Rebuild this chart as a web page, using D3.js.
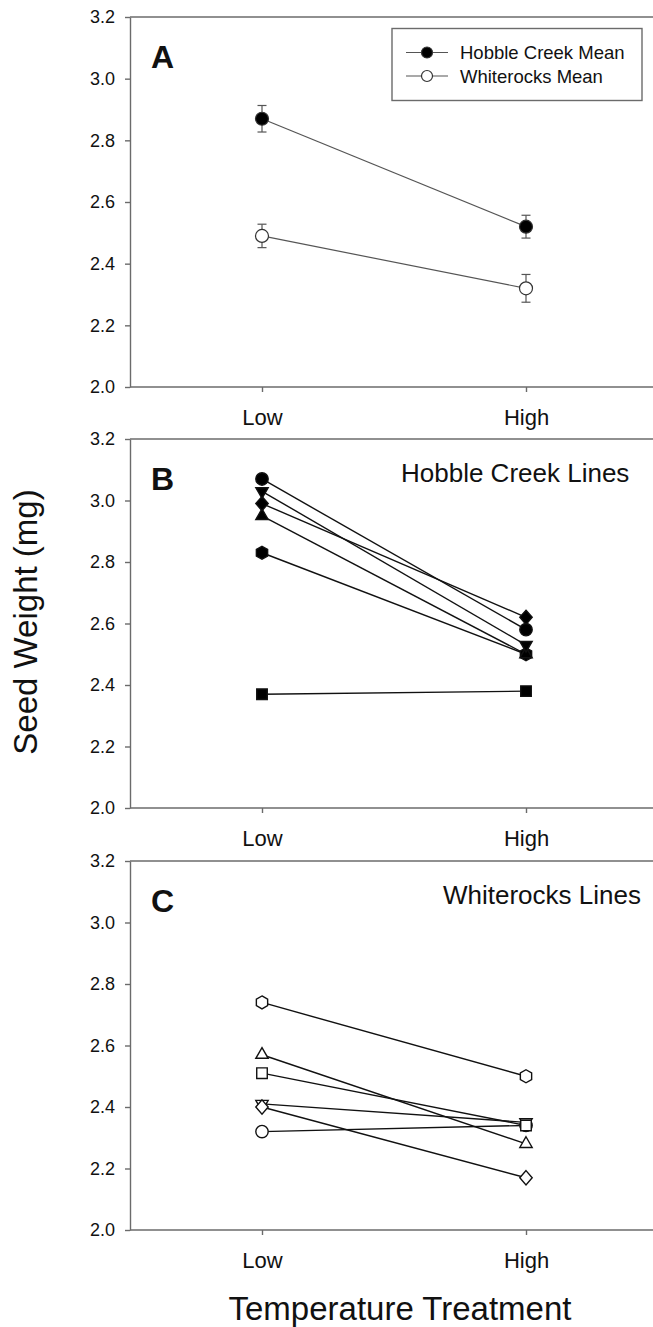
<!DOCTYPE html>
<meta charset="utf-8">
<style>
body { margin: 0; background: #fff; }
text { font-family: "Liberation Sans", Arial, sans-serif; fill: #111; }
</style>
<svg width="653" height="1327"></svg>
<script src="https://d3js.org/d3.v7.min.js"></script>
<script>

// ---- data ----
var treatments = ["Low", "High"];
var yTicks = [2.0, 2.2, 2.4, 2.6, 2.8, 3.0, 3.2];

var meanNames = ["Hobble Creek Mean", "Whiterocks Mean"];
var hobbleMean = [2.87, 2.52];
var hobbleSE = [0.043, 0.037];
var whiteMean = [2.49, 2.32];
var whiteSE = [0.038, 0.045];

var hobbleSymbols = ["circle", "triangleDown", "diamond", "triangle", "hexagon", "square"];
var hobbleLow  = [3.07, 3.03, 2.99, 2.95, 2.83, 2.37];
var hobbleHigh = [2.58, 2.53, 2.62, 2.50, 2.50, 2.38];

var whiteSymbols = ["hexagon", "triangle", "square", "diamond", "triangleDown", "circle"];
var whiteLow  = [2.74, 2.57, 2.51, 2.40, 2.41, 2.32];
var whiteHigh = [2.50, 2.28, 2.34, 2.17, 2.35, 2.34];

var svg = d3.select("svg"),
    width = +svg.attr("width"),
    height = +svg.attr("height");

var left = 130, right = 662;

var x = d3.scalePoint().domain(treatments).range([262, 526]);

// custom marker shapes, size = radius
function polygon(pts) {
  return {draw: function(ctx, r) {
    pts.forEach(function(p, i) {
      if (i == 0) ctx.moveTo(p[0] * r, p[1] * r); else ctx.lineTo(p[0] * r, p[1] * r);
    });
    ctx.closePath();
  }};
}
var c30 = Math.cos(Math.PI / 6);
var shapes = {
  circle: {draw: function(ctx, r) { ctx.moveTo(r, 0); ctx.arc(0, 0, r, 0, 2 * Math.PI); }},
  square: polygon([[-0.85, -0.85], [0.85, -0.85], [0.85, 0.85], [-0.85, 0.85]]),
  triangle: polygon([[0, -1.15], [c30 * 1.15, 0.575], [-c30 * 1.15, 0.575]]),
  triangleDown: polygon([[0, 1.15], [c30 * 1.15, -0.575], [-c30 * 1.15, -0.575]]),
  diamond: polygon([[0, -1.15], [1.0, 0], [0, 1.15], [-1.0, 0]]),
  hexagon: polygon(d3.range(6).map(function(i) {
    var a = -Math.PI / 2 + i * Math.PI / 3;
    return [Math.cos(a) * 1.05, Math.sin(a) * 1.05];
  }))
};

var panels = [
  {label: "A", top: 17, bottom: 387},
  {label: "B", top: 439, bottom: 808},
  {label: "C", top: 861, bottom: 1230}
];

panels.forEach(function(p) {
  p.y = d3.scaleLinear().domain([2.0, 3.2]).range([p.bottom, p.top]);
  var g = svg.append("g");
  p.g = g;

  // frame: top and bottom lines run off the right edge
  g.append("line").attr("x1", left).attr("x2", right)
    .attr("y1", p.top).attr("y2", p.top)
    .attr("stroke", "#6b6b6b").attr("stroke-width", 1.4);

  var ya = g.append("g").attr("transform", "translate(" + left + ",0)")
    .call(d3.axisLeft(p.y).tickValues(yTicks).tickFormat(d3.format(".1f"))
      .tickSize(5).tickSizeOuter(0).tickPadding(10));
  ya.selectAll("path, line").attr("stroke", "#6b6b6b").attr("stroke-width", 1.4);
  ya.selectAll("text").style("font-size", "18px").attr("fill", "#111");

  var xa = g.append("g").attr("transform", "translate(0," + p.bottom + ")")
    .call(d3.axisBottom(x).tickSize(5).tickSizeOuter(0).tickPadding(17));
  xa.select(".domain").remove();
  xa.selectAll("line").attr("stroke", "#6b6b6b").attr("stroke-width", 1.4);
  xa.selectAll("text").style("font-size", "22px").attr("fill", "#111");

  g.append("line").attr("x1", left).attr("x2", right)
    .attr("y1", p.bottom).attr("y2", p.bottom)
    .attr("stroke", "#6b6b6b").attr("stroke-width", 1.4);

  g.append("text").attr("x", 151).attr("y", p.top + 51)
    .style("font-size", "32px").style("font-weight", "bold")
    .text(p.label);
});

// ---- panel A: means with error bars ----
var pa = panels[0];
var means = [
  {name: meanNames[0], m: hobbleMean, se: hobbleSE, fill: "#000"},
  {name: meanNames[1], m: whiteMean, se: whiteSE, fill: "#fff"}
];
means.forEach(function(s) {
  var pts = treatments.map(function(t, i) { return {t: t, v: s.m[i], se: s.se[i]}; });
  pa.g.append("path").datum(pts)
    .attr("fill", "none").attr("stroke", "#555").attr("stroke-width", 1.2)
    .attr("d", d3.line().x(function(d) { return x(d.t); }).y(function(d) { return pa.y(d.v); }));
  var eb = pa.g.append("g").selectAll("g").data(pts).enter().append("g")
    .attr("stroke", "#555").attr("stroke-width", 1.2);
  eb.append("line")
    .attr("x1", function(d) { return x(d.t); }).attr("x2", function(d) { return x(d.t); })
    .attr("y1", function(d) { return pa.y(d.v - d.se); }).attr("y2", function(d) { return pa.y(d.v + d.se); });
  [1, -1].forEach(function(sgn) {
    eb.append("line")
      .attr("x1", function(d) { return x(d.t) - 4.5; }).attr("x2", function(d) { return x(d.t) + 4.5; })
      .attr("y1", function(d) { return pa.y(d.v + sgn * d.se); }).attr("y2", function(d) { return pa.y(d.v + sgn * d.se); });
  });
  pa.g.append("g").selectAll("path").data(pts).enter().append("path")
    .attr("transform", function(d) { return "translate(" + x(d.t) + "," + pa.y(d.v) + ")"; })
    .attr("d", d3.symbol().type(shapes.circle).size(6.5))
    .attr("fill", s.fill).attr("stroke", "#333").attr("stroke-width", 1.2);
});

// legend
var lg = pa.g.append("g");
lg.append("rect").attr("x", 392).attr("y", 28.5).attr("width", 250).attr("height", 72)
  .attr("fill", "#fff").attr("stroke", "#6b6b6b").attr("stroke-width", 1.4);
means.forEach(function(s, i) {
  var ly = 52.5 + i * 23.5;
  lg.append("line").attr("x1", 406).attr("x2", 448).attr("y1", ly).attr("y2", ly)
    .attr("stroke", "#555").attr("stroke-width", 1.2);
  lg.append("path").attr("transform", "translate(427," + ly + ")")
    .attr("d", d3.symbol().type(shapes.circle).size(5.5))
    .attr("fill", s.fill).attr("stroke", "#333").attr("stroke-width", 1.2);
  lg.append("text").attr("x", 460).attr("y", ly + 6.8)
    .style("font-size", "18.5px").text(s.name);
});

// ---- panels B and C: individual lines ----
function drawLines(p, syms, lo, hi, fill, title, tx) {
  var rows = syms.map(function(s, i) { return {sym: s, v: [lo[i], hi[i]]}; });
  var line = d3.line().x(function(d, i) { return x(treatments[i]); }).y(function(d) { return p.y(d); });
  p.g.append("g").selectAll("path").data(rows).enter().append("path")
    .attr("fill", "none").attr("stroke", "#111").attr("stroke-width", 1.4)
    .attr("d", function(d) { return line(d.v); });
  // later series sit underneath, as in the original
  rows.slice().reverse().forEach(function(r) {
    p.g.append("g").selectAll("path").data(r.v).enter().append("path")
      .attr("transform", function(d, i) { return "translate(" + x(treatments[i]) + "," + p.y(d) + ")"; })
      .attr("d", d3.symbol().type(shapes[r.sym]).size(6.2))
      .attr("fill", fill).attr("stroke", "#111").attr("stroke-width", 1.4);
  });
  p.g.append("text").attr("x", tx).attr("y", p.top + 42.5)
    .style("font-size", "26px").text(title);
}
drawLines(panels[1], hobbleSymbols, hobbleLow, hobbleHigh, "#000", "Hobble Creek Lines", 401);
drawLines(panels[2], whiteSymbols, whiteLow, whiteHigh, "#fff", "Whiterocks Lines", 443);

// axis titles
svg.append("text").attr("transform", "translate(37,622) rotate(-90)")
  .attr("text-anchor", "middle").style("font-size", "33px").text("Seed Weight (mg)");
svg.append("text").attr("x", 400).attr("y", 1320)
  .attr("text-anchor", "middle").style("font-size", "33px").text("Temperature Treatment");

</script>
